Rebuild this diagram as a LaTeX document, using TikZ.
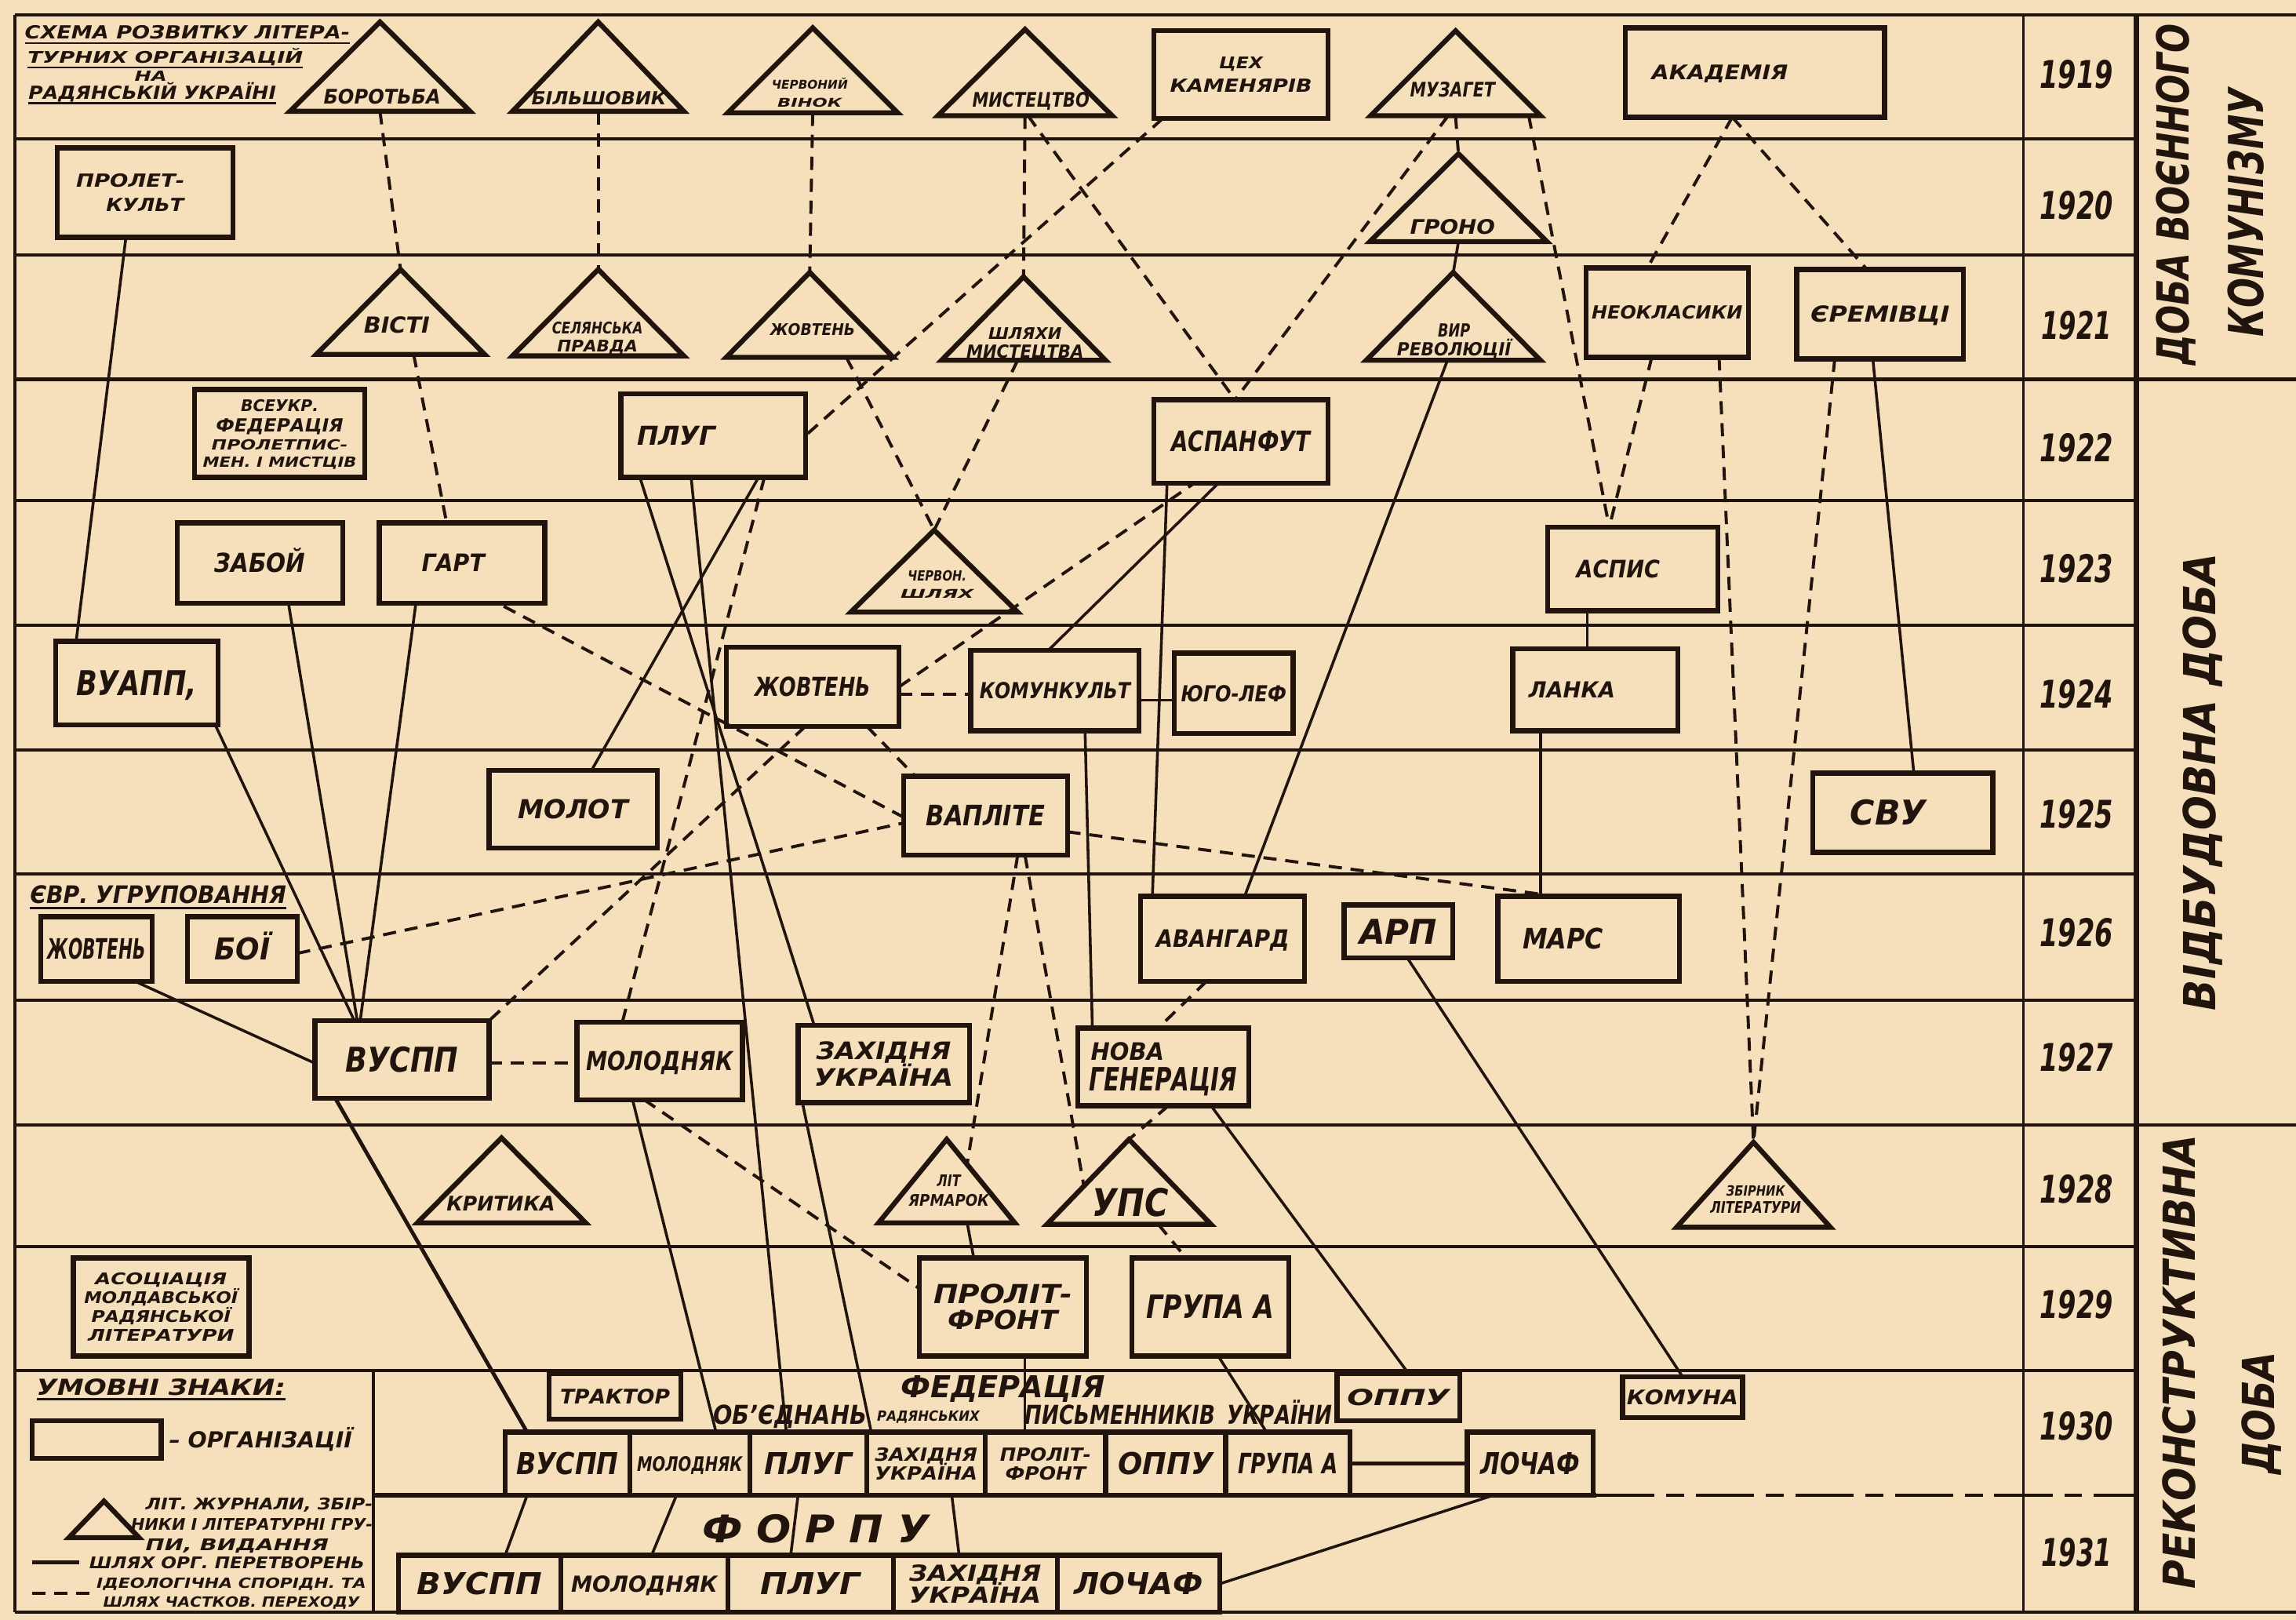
\documentclass[tikz,border=0pt]{standalone}
\usepackage{fontspec}
\setmainfont{DejaVu Sans}
\usetikzlibrary{calc}
\definecolor{paperc}{RGB}{246,224,187}
\definecolor{inkc}{RGB}{32,20,12}
\newcommand\tx[3]{\resizebox{#1pt}{#2pt}{\bfseries\itshape\smash{#3}\vphantom{H}}}
\newcommand\mybox[6]{\node[box,minimum width={#4-#2},minimum height={#5-#3}] (#1) at ({(#2+#4)/2},{(#3+#5)/2}) {#6};}
\newcommand\mytri[5]{%
  \coordinate (#1-a) at (#2,#3);
  \coordinate (#1-l) at ({#2-#5},#4);
  \coordinate (#1-r) at ({#2+#5},#4);
  \coordinate (#1-b) at (#2,#4);
  \draw[trib] (#1-a) -- (#1-l) -- (#1-r) -- cycle;}
\tikzset{
  gridl/.style={draw=inkc, line width=2.2pt},
  box/.style={draw=inkc, line width=3.4pt, fill=paperc, inner sep=0pt, outer sep=0pt,
              font=\fontsize{4}{4}\selectfont, align=center, text=inkc},
  lab/.style={inner sep=0pt, outer sep=0pt, text=inkc, font=\fontsize{4}{4}\selectfont, align=center},
  conS/.style={draw=inkc, line width=1.9pt},
  conD/.style={draw=inkc, line width=2.1pt, dash pattern=on 9pt off 6pt},
  trib/.style={draw=inkc, line width=3.4pt, line join=miter, fill=paperc},
  ul/.style={draw=inkc, line width=1.3pt}
}
\begin{document}
\begin{tikzpicture}[x=1pt,y=-1pt]
\useasboundingbox (0,0) rectangle (1568,1106);
\fill[paperc] (0,0) rectangle (1568,1106);

% ---------- grid ----------
\foreach \yy in {95,174,259,342,427,512,597,683,768,851,936}
  \draw[gridl] (10,\yy) -- (1459,\yy);
\draw[draw=inkc, line width=3.2pt] (255,1021) -- (1090,1021);
\draw[gridl, dash pattern=on 40pt off 8pt on 12pt off 8pt] (1090,1021) -- (1459,1021);
\draw[gridl] (10,10) -- (1568,10);
\draw[gridl] (10,1101) -- (1568,1101);
\draw[gridl] (10,10) -- (10,1101);
\draw[draw=inkc, line width=1.6pt] (1382,10) -- (1382,1101);
\draw[draw=inkc, line width=4.2pt] (1459,10) -- (1459,1101);
\draw[gridl] (1459,259) -- (1568,259);
\draw[gridl] (1459,768) -- (1568,768);
\draw[gridl] (255,936) -- (255,1101);

% ---------- years ----------
\node[lab] (y19) at (1418,51) {\tx{50}{19}{1919}};
\node[lab] (y20) at (1418,140) {\tx{50}{19}{1920}};
\node[lab] (y21) at (1418,222) {\tx{48}{19}{1921}};
\node[lab] (y22) at (1418,306) {\tx{50}{19}{1922}};
\node[lab] (y23) at (1418,388) {\tx{50}{19}{1923}};
\node[lab] (y24) at (1418,474) {\tx{50}{19}{1924}};
\node[lab] (y25) at (1418,556) {\tx{50}{19}{1925}};
\node[lab] (y26) at (1418,637) {\tx{50}{19}{1926}};
\node[lab] (y27) at (1418,722) {\tx{50}{19}{1927}};
\node[lab] (y28) at (1418,812) {\tx{50}{19}{1928}};
\node[lab] (y29) at (1418,891) {\tx{50}{19}{1929}};
\node[lab] (y30) at (1418,974) {\tx{50}{19}{1930}};
\node[lab] (y31) at (1418,1060) {\tx{48}{19}{1931}};

% ---------- periods ----------
\node[lab, rotate=90] (per1) at (1484,133) {\tx{233}{22}{ДОБА ВОЄННОГО}};
\node[lab, rotate=90] (per2) at (1534,145) {\tx{170}{24}{КОМУНІЗМУ}};
\node[lab, rotate=90] (per3) at (1502,534) {\tx{312}{22}{ВІДБУДОВНА ДОБА}};
\node[lab, rotate=90] (per4) at (1488,930) {\tx{310}{22}{РЕКОНСТРУКТИВНА}};
\node[lab, rotate=90] (per5) at (1542,965) {\tx{84}{22}{ДОБА}};

% ---------- title ----------
\node[lab] (tt1) at (128,22) {\tx{222}{9}{СХЕМА РОЗВИТКУ ЛІТЕРА-}};
\node[lab] (tt2) at (113,39) {\tx{188}{8}{ТУРНИХ ОРГАНІЗАЦІЙ}};
\node[lab] (tt3) at (103,52) {\tx{22}{7}{НА}};
\node[lab] (tt4) at (104,63) {\tx{169}{9}{РАДЯНСЬКІЙ УКРАЇНІ}};
\draw[ul] ([yshift=-3pt]tt1.south west) -- ([yshift=-3pt]tt1.south east);
\draw[ul] ([yshift=-3pt]tt2.south west) -- ([yshift=-3pt]tt2.south east);
\draw[ul] ([yshift=-3pt]tt4.south west) -- ([yshift=-3pt]tt4.south east);

% ---------- triangles ----------
\mytri{borot}{259.5}{15}{76}{61.5}
\mytri{bilsh}{408.5}{15}{76}{58.5}
\mytri{chv}{555}{19}{77}{58}
\mytri{myst}{700}{20}{79}{59.5}
\mytri{muz}{994}{21}{79}{58}
\mytri{grono}{996}{105}{165}{60.5}
\mytri{visti}{273.5}{184}{242}{57.5}
\mytri{selpr}{408.5}{184}{243}{58.5}
\mytri{zhtri}{553}{186}{244}{57}
\mytri{shlm}{699}{189}{246}{56}
\mytri{vyr}{992.5}{186}{246}{59.5}
\mytri{chsh}{638}{362}{418}{57}
\mytri{kryt}{342.5}{777}{835}{57.5}
\mytri{lit}{646.5}{778}{835}{46.5}
\mytri{ups}{771}{778}{836}{56}
\mytri{zbir}{1197.5}{780}{838}{52.5}

\node[lab] (borot) at (261,66) {\tx{80}{10}{БОРОТЬБА}};
\node[lab] (bilsh) at (409,67) {\tx{92}{9}{БІЛЬШОВИК}};
\node[lab] (chv) at (553,64) {\tx{52}{6}{ЧЕРВОНИЙ}\\[5pt]\tx{44}{6}{ВІНОК}};
\node[lab] (myst) at (704,68) {\tx{80}{10}{МИСТЕЦТВО}};
\node[lab] (muz) at (992,61) {\tx{58}{10}{МУЗАГЕТ}};
\node[lab] (grono) at (992,155) {\tx{58}{10}{ГРОНО}};
\node[lab] (visti) at (271,222) {\tx{45}{11}{ВІСТІ}};
\node[lab] (selpr) at (408,230) {\tx{62}{8}{СЕЛЯНСЬКА}\\[3pt]\tx{55}{8}{ПРАВДА}};
\node[lab] (zhtri) at (555,225) {\tx{58}{8}{ЖОВТЕНЬ}};
\node[lab] (shlm) at (700,234) {\tx{50}{8}{ШЛЯХИ}\\[3pt]\tx{80}{9}{МИСТЕЦТВА}};
\node[lab] (vyr) at (993,232) {\tx{22}{9}{ВИР}\\[3pt]\tx{78}{9}{РЕВОЛЮЦІЇ}};
\node[lab] (chsh) at (640,399) {\tx{40}{7}{ЧЕРВОН.}\\[5pt]\tx{50}{6}{ШЛЯХ}};
\node[lab] (kryt) at (342,822) {\tx{74}{10}{КРИТИКА}};
\node[lab] (lit) at (648,813) {\tx{16}{8}{ЛІТ}\\[4pt]\tx{55}{8}{ЯРМАРОК}};
\node[lab] (ups) at (772,821) {\tx{52}{19}{УПС}};
\node[lab] (zbir) at (1199,819) {\tx{40}{7}{ЗБІРНИК}\\[3pt]\tx{62}{8}{ЛІТЕРАТУРИ}};

% ---------- boxes ----------
\mybox{tsekh}{788}{21}{907}{81}{\tx{30}{8}{ЦЕХ}\\[6pt]\tx{97}{9}{КАМЕНЯРІВ}}
\mybox{akad}{1110}{19}{1287}{80}{\hspace*{-48pt}\tx{93}{10}{АКАДЕМІЯ}}
\mybox{prolet}{39}{101}{159}{162}{\hspace*{-20pt}\tx{74}{9}{ПРОЛЕТ-}\\[7pt]\tx{53}{9}{КУЛЬТ}}
\mybox{neokl}{1083}{183}{1194}{244}{\tx{103}{9}{НЕОКЛАСИКИ}}
\mybox{yerem}{1227}{184}{1341}{245}{\tx{95}{11}{ЄРЕМІВЦІ}}
\mybox{vseukr}{133}{266}{249}{326}{\tx{53}{8}{ВСЕУКР.}\\[4pt]\tx{87}{9}{ФЕДЕРАЦІЯ}\\[4pt]\tx{93}{7}{ПРОЛЕТПИС-}\\[4pt]\tx{105}{7}{МЕН. І МИСТЦІВ}}
\mybox{plug}{424}{269}{550}{326}{\hspace*{-50pt}\tx{54}{13}{ПЛУГ}}
\mybox{aspanf}{788}{273}{907}{330}{\tx{95}{14}{АСПАНФУТ}}
\mybox{zaboi}{121}{357}{234}{412}{\tx{62}{13}{ЗАБОЙ}}
\mybox{hart}{259}{357}{372}{412}{\hspace*{-12pt}\tx{43}{12}{ГАРТ}}
\mybox{aspys}{1057}{360}{1173}{417}{\hspace*{-20pt}\tx{57}{12}{АСПИС}}
\mybox{vuapp}{38}{438}{149}{495}{\tx{82}{17}{ВУАПП,}}
\mybox{zhovt24}{496}{442}{614}{496}{\tx{79}{13}{ЖОВТЕНЬ}}
\mybox{komunk}{663}{444}{778}{499}{\tx{103}{11}{КОМУНКУЛЬТ}}
\mybox{yugolef}{802}{446}{883}{501}{\tx{72}{11}{ЮГО-ЛЕФ}}
\mybox{lanka}{1033}{443}{1146}{499}{\hspace*{-32pt}\tx{59}{11}{ЛАНКА}}
\mybox{molot}{334}{526}{449}{579}{\tx{75}{13}{МОЛОТ}}
\mybox{vaplite}{617}{530}{729}{584}{\tx{81}{14}{ВАПЛІТЕ}}
\mybox{svu}{1238}{528}{1361}{582}{\hspace*{-20pt}\tx{52}{17}{СВУ}}
\mybox{zhovtsm}{28}{626}{104}{670}{\tx{67}{14}{ЖОВТЕНЬ}}
\mybox{boi}{128}{626}{203}{670}{\tx{38}{15}{БОЇ}}
\mybox{avang}{779}{612}{891}{670}{\tx{91}{12}{АВАНГАРД}}
\mybox{arp}{918}{618}{992}{654}{\tx{53}{17}{АРП}}
\mybox{mars}{1023}{612}{1147}{670}{\hspace*{-35pt}\tx{55}{14}{МАРС}}
\mybox{vuspp}{215}{697}{334}{750}{\tx{77}{17}{ВУСПП}}
\mybox{molod}{394}{698}{507}{751}{\tx{100}{13}{МОЛОДНЯК}}
\mybox{zakh}{545}{700}{662}{753}{\tx{92}{12}{ЗАХІДНЯ}\\[5pt]\tx{95}{12}{УКРАЇНА}}
\mybox{novag}{736}{702}{853}{755}{\hspace*{-49pt}\tx{50}{12}{НОВА}\\[4pt]\tx{101}{16}{ГЕНЕРАЦІЯ}}
\mybox{asoc}{50}{859}{170}{926}{\tx{90}{8}{АСОЦІАЦІЯ}\\[4pt]\tx{105}{8}{МОЛДАВСЬКОЇ}\\[4pt]\tx{95}{8}{РАДЯНСЬКОЇ}\\[4pt]\tx{100}{8}{ЛІТЕРАТУРИ}}
\mybox{prolf}{628}{859}{742}{926}{\tx{95}{13}{ПРОЛІТ-}\\[4pt]\tx{75}{13}{ФРОНТ}}
\mybox{grupa}{773}{859}{880}{926}{\tx{87}{16}{ГРУПА А}}
\mybox{traktor}{375}{938}{465}{969}{\tx{75}{10}{ТРАКТОР}}
\mybox{oppu}{913}{938}{997}{970}{\tx{70}{11}{ОППУ}}
\mybox{komuna}{1108}{940}{1190}{968}{\tx{76}{10}{КОМУНА}}
% federation
\mybox{f1}{345}{978}{430}{1021}{\tx{70}{15}{ВУСПП}}
\mybox{f2}{430}{978}{512}{1021}{\tx{72}{10}{МОЛОДНЯК}}
\mybox{f3}{512}{978}{592}{1021}{\tx{60}{15}{ПЛУГ}}
\mybox{f4}{592}{978}{673}{1021}{\tx{70}{9}{ЗАХІДНЯ}\\[3pt]\tx{70}{9}{УКРАЇНА}}
\mybox{f5}{673}{978}{755}{1021}{\tx{62}{9}{ПРОЛІТ-}\\[3pt]\tx{55}{9}{ФРОНТ}}
\mybox{f6}{755}{978}{837}{1021}{\tx{65}{15}{ОППУ}}
\mybox{f7}{837}{978}{922}{1021}{\tx{68}{14}{ГРУПА А}}
\mybox{lochaf}{1002}{978}{1088}{1021}{\tx{68}{15}{ЛОЧАФ}}
% forpu
\mybox{p1}{272}{1062}{383}{1101}{\tx{85}{15}{ВУСПП}}
\mybox{p2}{383}{1062}{497}{1101}{\tx{100}{11}{МОЛОДНЯК}}
\mybox{p3}{497}{1062}{610}{1101}{\tx{68}{15}{ПЛУГ}}
\mybox{p4}{610}{1062}{722}{1101}{\tx{90}{11}{ЗАХІДНЯ}\\[3pt]\tx{90}{11}{УКРАЇНА}}
\mybox{p5}{722}{1062}{833}{1101}{\tx{88}{15}{ЛОЧАФ}}

% ---------- free texts ----------
\node[lab] (evr) at (108,611) {\tx{175}{12}{ЄВР. УГРУПОВАННЯ}};
\draw[ul] ([yshift=-3pt]evr.south west) -- ([yshift=-3pt]evr.south east);
\node[lab] (fedt) at (685,947) {\tx{140}{15}{ФЕДЕРАЦІЯ}};
\node[lab] (obj1) at (539.5,966) {\tx{105}{13}{ОБ'ЄДНАНЬ}};
\node[lab] (obj2) at (634,967) {\tx{70}{7}{РАДЯНСЬКИХ}};
\node[lab] (obj3) at (765,966) {\tx{130}{13}{ПИСЬМЕННИКІВ}};
\node[lab] (obj4) at (874,966) {\tx{72}{13}{УКРАЇНИ}};
\node[lab] (forpu) at (557,1044) {\tx{155}{19}{Ф О Р П У}};

% ---------- legend ----------
\node[lab] (lg0) at (110,947) {\tx{170}{11}{УМОВНІ ЗНАКИ:}};
\draw[ul] ([yshift=-3pt]lg0.south west) -- ([yshift=-3pt]lg0.south east);
\node[box, minimum width=88, minimum height=26] (lgbox) at (66,983) {};
\node[lab] (lg1) at (178,983) {\tx{125}{11}{– ОРГАНІЗАЦІЇ}};
\mytri{lgt}{71}{1025}{1050}{24}
\node[lab] (lg2) at (177,1027) {\tx{155}{8}{ЛІТ. ЖУРНАЛИ, ЗБІР-}};
\node[lab] (lg3) at (172,1041) {\tx{165}{8}{НИКИ І ЛІТЕРАТУРНІ ГРУ-}};
\node[lab] (lg4) at (162,1055) {\tx{125}{8}{ПИ, ВИДАННЯ}};
\coordinate (ls1) at (22,1067); \coordinate (ls2) at (54,1067);
\draw[conS, line width=2.6pt] (ls1) -- (ls2);
\node[lab] (lg5) at (155,1067) {\tx{188}{8}{ШЛЯХ ОРГ. ПЕРЕТВОРЕНЬ}};
\coordinate (ld1) at (22,1088); \coordinate (ld2) at (62,1088);
\draw[conD] (ld1) -- (ld2);
\node[lab] (lg6) at (158,1081) {\tx{184}{7}{ІДЕОЛОГІЧНА СПОРІДН. ТА}};
\node[lab] (lg7) at (158,1094) {\tx{175}{7}{ШЛЯХ ЧАСТКОВ. ПЕРЕХОДУ}};

% ---------- solid connectors ----------
\draw[conS] ([xshift=-13pt]prolet.south) -- ([xshift=-41.5pt]vuapp.north);
\draw[conS] (grono-b) -- (vyr-a);
\draw[conS] ([xshift=-4pt]vyr-b) -- ([xshift=15pt]avang.north);
\draw[conS] ([xshift=-5pt]yerem.south) -- ([xshift=7.5pt]svu.north);
\draw[conS] ([xshift=-31pt]aspys.south) -- ([xshift=-5.5pt]lanka.north);
\draw[conS] ([xshift=-37.5pt]lanka.south) -- ([xshift=-33pt]mars.north);
\draw[conS] ([yshift=-6.5pt]komunk.east) -- ([yshift=-4.5pt]yugolef.west);
\draw[conS] ([xshift=-4.5pt]komunk.north) -- ([xshift=-15.5pt]aspanf.south);
\draw[conS] ([xshift=-50.5pt]aspanf.south) -- ([xshift=-48pt]avang.north);
\draw[conS] ([xshift=20.5pt]komunk.south) -- ([xshift=-48.5pt]novag.north);
\draw[conS] ([xshift=-50pt]plug.south) -- ([xshift=-47.5pt]zakh.north);
\draw[conS] ([xshift=-15pt]plug.south) -- ([xshift=-15pt]f3.north);
\draw[conS] ([xshift=31pt]plug.south) -- ([xshift=12.5pt]molot.north);
\draw[conS] ([xshift=19.5pt]zaboi.south) -- ([xshift=-30.5pt]vuspp.north);
\draw[conS] ([xshift=-31.5pt]hart.south) -- ([xshift=-28.5pt]vuspp.north);
\draw[conS] ([xshift=-2pt]vuapp.south east) -- ([xshift=-32.5pt]vuspp.north);
\draw[conS] ([xshift=26pt]zhovtsm.south) -- ([yshift=-2.5pt]vuspp.west);
\draw[conS] ([xshift=32.5pt]novag.south) -- ([xshift=7pt]oppu.north);
\draw[conS] ([xshift=6pt]arp.south) -- (komuna.north);
\draw[conS] ([xshift=14pt]lit-b) -- ([xshift=-20pt]prolf.north);
\draw[conS] ([xshift=-18.5pt]molod.south) -- ([xshift=18pt]f2.north);
\draw[conS] ([xshift=-55.5pt]zakh.south) -- ([xshift=-37.5pt]f4.north);
\draw[conS, line width=2.6pt] ([xshift=-45.5pt]vuspp.south) -- ([xshift=-27.5pt]f1.north);
\draw[conS] ([xshift=15pt]prolf.south) -- ([xshift=-14pt]f5.north);
\draw[conS] ([xshift=5.5pt]grupa.south) -- ([xshift=-14.5pt]f7.north);
\draw[conS, line width=2.6pt] (f7.east) -- (lochaf.west);
\draw[conS] ([xshift=-27.5pt]f1.south) -- ([xshift=17.5pt]p1.north);
\draw[conS] ([xshift=-9pt]f2.south) -- ([xshift=5pt]p2.north);
\draw[conS] ([xshift=-7pt]f3.south) -- ([xshift=-13.5pt]p3.north);
\draw[conS] ([xshift=17.5pt]f4.south) -- ([xshift=-11pt]p4.north);
\draw[conS] ([xshift=-25pt]lochaf.south) -- (p5.east);

% ---------- dashed connectors ----------
\draw[conD] (borot-b) -- (visti-a);
\draw[conD] (bilsh-b) -- (selpr-a);
\draw[conD] (chv-b) -- (zhtri-a);
\draw[conD] (myst-b) -- (shlm-a);
\draw[conD] ([xshift=2pt]myst-b) -- ([xshift=-4pt]aspanf.north);
\draw[conD] ([xshift=6pt]tsekh.south west) -- (plug.east);
\draw[conD] (muz-b) -- (grono-a);
\draw[conD] ([xshift=-5pt]muz-b) -- ([xshift=-4pt]aspanf.north);
\draw[conD] ([xshift=50pt]muz-b) -- ([xshift=-16pt]aspys.north);
\draw[conD] ([xshift=-15.5pt]akad.south) -- ([xshift=-13.5pt]neokl.north);
\draw[conD] ([xshift=-15.5pt]akad.south) -- ([xshift=-9pt]yerem.north);
\draw[conD] ([xshift=-10.5pt]neokl.south) -- ([xshift=-16pt]aspys.north);
\draw[conD] ([xshift=35.5pt]neokl.south) -- (zbir-a);
\draw[conD] ([xshift=-31pt]yerem.south) -- (zbir-a);
\draw[conD] ([xshift=9pt]visti-b) -- ([xshift=-10.5pt]hart.north);
\draw[conD] ([xshift=25pt]zhtri-b) -- (chsh-a);
\draw[conD] ([xshift=-4pt]shlm-b) -- (chsh-a);
\draw[conD] (zhovt24.east) -- ([xshift=-32pt]aspanf.south);
\draw[conD] ([yshift=-5pt]zhovt24.east) -- ([yshift=-2.5pt]komunk.west);
\draw[conD] ([xshift=35pt]plug.south) -- ([xshift=-25.5pt]molod.north);
\draw[conD] ([xshift=-28pt,yshift=-2pt]hart.south east) -- ([yshift=-1pt]vaplite.west);
\draw[conD] ([xshift=-5pt]zhovt24.south) -- (vuspp.north east);
\draw[conD] ([xshift=37pt]zhovt24.south) -- ([xshift=8pt]vaplite.north west);
\draw[conD] ([yshift=-3pt]boi.east) -- ([yshift=-5pt]vaplite.west);
\draw[conD] ([yshift=-2.5pt]vuspp.east) -- ([yshift=-1.5pt]molod.west);
\draw[conD] ([yshift=-11pt]vaplite.east) -- ([xshift=40pt]mars.north west);
\draw[conD] ([xshift=22pt]vaplite.south) -- ($(lit-a)!0.3!(lit-r)$);
\draw[conD] ([xshift=27pt]vaplite.south) -- ($(ups-a)!0.55!(ups-l)$);
\draw[conD] ([xshift=-11pt]avang.south) -- ([xshift=-3.5pt]novag.north);
\draw[conD] ([xshift=3.5pt]novag.south) -- (ups-a);
\draw[conD] ([xshift=20pt]ups-b) -- ([xshift=-16.5pt]grupa.north);
\draw[conD] ([xshift=-10.5pt]molod.south) -- ([yshift=12.5pt]prolf.west);
\end{tikzpicture}
\end{document}
